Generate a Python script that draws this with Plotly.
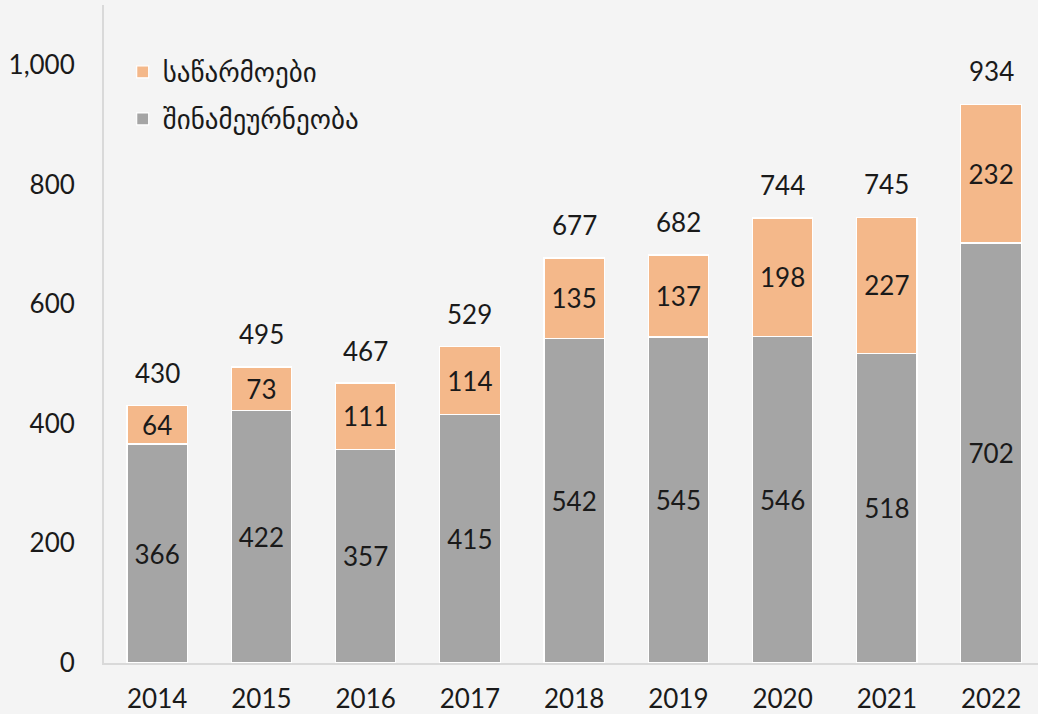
import plotly.graph_objects as go

years = ["2014", "2015", "2016", "2017", "2018", "2019", "2020", "2021", "2022"]
households = [366, 422, 357, 415, 542, 545, 546, 518, 702]
enterprises = [64, 73, 111, 114, 135, 137, 198, 227, 232]
totals = [430, 495, 467, 529, 677, 682, 744, 745, 934]
name_households = "შინამეურნეობა"
name_enterprises = "საწარმოები"

FONT = "Lato, DejaVu Sans, sans-serif"
TXT = "#1a1a1a"
FS = 26

fig = go.Figure()
fig.add_trace(go.Bar(
    x=years, y=households, name=name_households,
    marker=dict(color="#a5a5a5", line=dict(color="white", width=1.2)),
    text=households, textposition="inside", insidetextanchor="middle",
    textangle=0, textfont=dict(size=FS, color=TXT, family=FONT),
    legendgroup="a", legendrank=2,
))
fig.add_trace(go.Bar(
    x=years, y=enterprises, name=name_enterprises,
    marker=dict(color="#f4b88a", line=dict(color="white", width=1.2)),
    text=enterprises, textposition="inside", insidetextanchor="middle",
    textangle=0, textfont=dict(size=FS, color=TXT, family=FONT),
    legendgroup="b", legendrank=1,
))

for i, t in enumerate(totals):
    fig.add_annotation(x=i, y=t, xref="x", yref="y", text=str(t), showarrow=False,
                       yshift=33, font=dict(size=FS, color=TXT, family=FONT))

fig.update_layout(
    width=1038, height=714,
    barmode="stack", bargap=0.42,
    paper_bgcolor="#f4f4f4", plot_bgcolor="#f4f4f4",
    margin=dict(l=104, r=0, t=5, b=51),
    font=dict(family=FONT, size=FS, color=TXT),
    uniformtext=dict(minsize=FS, mode="show"),
    showlegend=True,
    legend=dict(x=0.02, y=0.935, xanchor="left", yanchor="top",
                traceorder="grouped", tracegroupgap=9,
                bgcolor="rgba(0,0,0,0)", font=dict(size=27, color=TXT, family=FONT),
                itemwidth=30),
    xaxis=dict(type="category", range=[-0.51, 8.45], showline=True, linecolor="#d9d9d9", linewidth=2,
               ticks="", showgrid=False, tickfont=dict(size=FS, color=TXT),
               ticklabelstandoff=12),
    yaxis=dict(range=[0, 1100], tickvals=[0, 200, 400, 600, 800, 1000], tickformat=",",
               showline=True, linecolor="#d9d9d9", linewidth=2, showgrid=False,
               zeroline=False, ticks="", tickfont=dict(size=FS, color=TXT),
               ticklabelstandoff=22),
)

fig.write_html("out.html", config={"displayModeBar": False},
               post_script="document.body.style.margin='0';document.body.style.background='#f4f4f4';")
